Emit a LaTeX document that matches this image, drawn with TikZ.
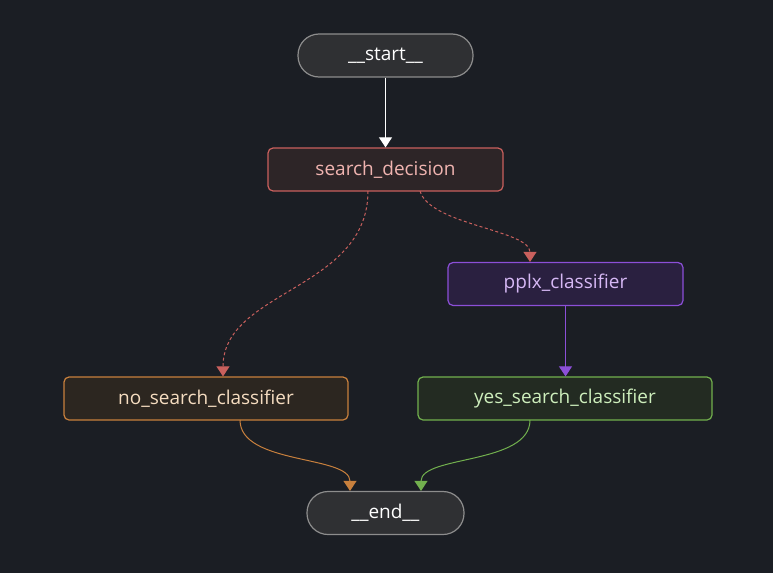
\documentclass[tikz,border=0pt]{standalone}
\usepackage{fontspec}
\setmainfont{Open Sans}
\usetikzlibrary{arrows.meta}
\definecolor{bg}{HTML}{1B1E24}
\definecolor{sf}{HTML}{2F3033}\definecolor{sb}{HTML}{8D8D8D}
\definecolor{df}{HTML}{2D2527}\definecolor{db}{HTML}{C9605D}\definecolor{dt}{HTML}{F0B4B0}
\definecolor{pf}{HTML}{2A2040}\definecolor{pb}{HTML}{8C4FD8}\definecolor{pt}{HTML}{D6B8F5}
\definecolor{nf}{HTML}{2C2620}\definecolor{nb}{HTML}{C8803D}\definecolor{nt}{HTML}{F5DCC0}
\definecolor{yf}{HTML}{232B22}\definecolor{yb}{HTML}{72B04E}\definecolor{yt}{HTML}{CDEEBC}
\begin{document}
\begin{tikzpicture}[x=1pt,y=-1pt,
 box/.style={draw,line width=1.2pt,rounded corners=5pt,minimum height=43pt,font=\fontsize{19}{21}\selectfont,inner sep=0pt},
 pill/.style={box,rounded corners=21pt,fill=sf,draw=sb,text=white},
 ar/.style={line width=1pt,-{Triangle[width=13pt,length=10pt]}},
 dsh/.style={ar,dash pattern=on 3pt off 2.5pt}]
\fill[bg] (0,0) rectangle (773,573);
\useasboundingbox (0,0) rectangle (773,573);
\node[pill,minimum width=175pt] (s) at (385.5,55.5) {\_\_start\_\_};
\node[pill,minimum width=157pt] (e) at (385.5,513) {\_\_end\_\_};
\node[box,minimum width=235pt,fill=df,draw=db,text=dt] (sd) at (385.5,169.5) {search\_decision};
\node[box,minimum width=235pt,fill=pf,draw=pb,text=pt] (p) at (565.5,284) {pplx\_classifier};
\node[box,minimum width=284pt,fill=nf,draw=nb,text=nt] (n) at (206,398.5) {no\_search\_classifier};
\node[box,minimum width=294pt,fill=yf,draw=yb,text=yt] (y) at (565,398.5) {yes\_search\_classifier};
\draw[ar,white] (s) -- (sd);
\draw[dsh,db] (368,191) .. controls (368,290) and (223,290) .. (n.north -| 223,0);
\draw[dsh,db] (420,191) .. controls (430,225) and (530,230) .. (p.north -| 530,0);
\draw[ar,pb] (p) -- (y.north -| p);
\draw[ar,nb] (240,420) .. controls (240,465) and (350,455) .. (e.north -| 350,0);
\draw[ar,yb] (530,420) .. controls (530,465) and (421,455) .. (e.north -| 421,0);
\end{tikzpicture}
\end{document}
